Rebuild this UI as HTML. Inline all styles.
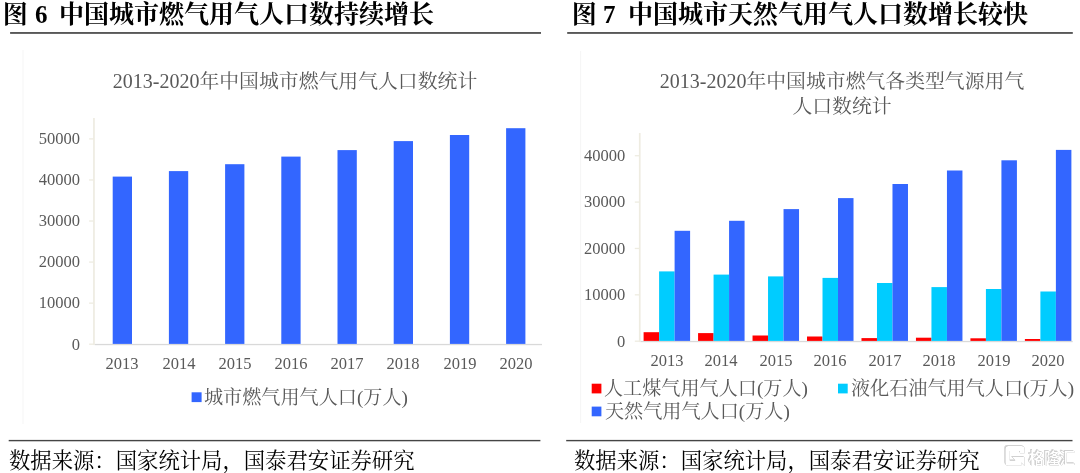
<!DOCTYPE html>
<html lang="zh-CN">
<head>
<meta charset="utf-8">
<title>图6 图7 中国城市燃气用气人口</title>
<style>
html,body{margin:0;padding:0;background:#fff;}
body{width:1080px;height:473px;position:relative;overflow:hidden;font-family:"Liberation Serif","Noto Serif CJK SC",serif;}
.t{position:absolute;white-space:nowrap;margin:0;padding:0;will-change:transform;}
svg.chart{position:absolute;left:0;top:0;}
.ft{font-weight:bold;font-size:25px;line-height:30px;color:#000;}
.ft .fa{position:absolute;top:0;line-height:30px;}
.ct{font-size:20px;color:#595959;text-align:center;line-height:25.2px;}
.ct .cjk{font-size:19.85px;}
.ax{font-size:16.5px;color:#595959;line-height:20px;}
.yl{text-align:right;}
.xl{text-align:center;}
.lg{font-size:19.14px;color:#595959;line-height:24px;}
.src{font-size:21px;color:#000;line-height:26px;}
.src .cjk{font-size:21.35px;}
.wm{position:absolute;overflow:visible;filter:drop-shadow(0.6px 0.6px 0.5px rgba(0,0,0,0.42)) drop-shadow(-0.3px -0.3px 0.4px rgba(0,0,0,0.18));}
</style>
</head>
<body>
<svg class="chart" width="1080" height="473" viewBox="0 0 1080 473" role="img" aria-label="柱状图">
<rect x="22.5" y="50" width="1" height="374" fill="#f6f6f6"/>
<rect x="580.1" y="51" width="1" height="372" fill="#f6f6f6"/>
<rect x="93.1" y="118" width="1.7" height="227.10" fill="#EEECE1"/>
<rect x="89.1" y="343.55" width="4.5" height="1.3" fill="#EEECE1"/>
<rect x="89.1" y="302.49" width="4.5" height="1.3" fill="#EEECE1"/>
<rect x="89.1" y="261.43" width="4.5" height="1.3" fill="#EEECE1"/>
<rect x="89.1" y="220.37" width="4.5" height="1.3" fill="#EEECE1"/>
<rect x="89.1" y="179.31" width="4.5" height="1.3" fill="#EEECE1"/>
<rect x="89.1" y="138.25" width="4.5" height="1.3" fill="#EEECE1"/>
<rect x="94.8" y="343.90" width="447.2" height="1.3" fill="#D9D9D9"/>
<rect x="112.70" y="176.60" width="19.3" height="167.30" fill="#3366FF"/>
<rect x="168.90" y="171.10" width="19.3" height="172.80" fill="#3366FF"/>
<rect x="225.10" y="164.20" width="19.3" height="179.70" fill="#3366FF"/>
<rect x="281.30" y="156.60" width="19.3" height="187.30" fill="#3366FF"/>
<rect x="337.50" y="150.10" width="19.3" height="193.80" fill="#3366FF"/>
<rect x="393.70" y="141.10" width="19.3" height="202.80" fill="#3366FF"/>
<rect x="449.90" y="135.00" width="19.3" height="208.90" fill="#3366FF"/>
<rect x="506.10" y="128.20" width="19.3" height="215.70" fill="#3366FF"/>
<rect x="638.9" y="133" width="1.7" height="209.10" fill="#EEECE1"/>
<rect x="634.8" y="340.55" width="4.5" height="1.3" fill="#EEECE1"/>
<rect x="634.8" y="294.18" width="4.5" height="1.3" fill="#EEECE1"/>
<rect x="634.8" y="247.81" width="4.5" height="1.3" fill="#EEECE1"/>
<rect x="634.8" y="201.44" width="4.5" height="1.3" fill="#EEECE1"/>
<rect x="634.8" y="155.07" width="4.5" height="1.3" fill="#EEECE1"/>
<rect x="640.6" y="340.90" width="432.1" height="1.3" fill="#D9D9D9"/>
<rect x="643.60" y="332.20" width="15.5" height="8.70" fill="#FF0000"/>
<rect x="659.10" y="271.40" width="15.5" height="69.50" fill="#00CCFF"/>
<rect x="674.60" y="230.80" width="15.5" height="110.10" fill="#3366FF"/>
<rect x="698.07" y="333.10" width="15.5" height="7.80" fill="#FF0000"/>
<rect x="713.57" y="274.60" width="15.5" height="66.30" fill="#00CCFF"/>
<rect x="729.07" y="220.80" width="15.5" height="120.10" fill="#3366FF"/>
<rect x="752.54" y="335.50" width="15.5" height="5.40" fill="#FF0000"/>
<rect x="768.04" y="276.40" width="15.5" height="64.50" fill="#00CCFF"/>
<rect x="783.54" y="209.10" width="15.5" height="131.80" fill="#3366FF"/>
<rect x="807.01" y="336.50" width="15.5" height="4.40" fill="#FF0000"/>
<rect x="822.51" y="277.90" width="15.5" height="63.00" fill="#00CCFF"/>
<rect x="838.01" y="198.10" width="15.5" height="142.80" fill="#3366FF"/>
<rect x="861.48" y="338.10" width="15.5" height="2.80" fill="#FF0000"/>
<rect x="876.98" y="283.00" width="15.5" height="57.90" fill="#00CCFF"/>
<rect x="892.48" y="184.00" width="15.5" height="156.90" fill="#3366FF"/>
<rect x="915.95" y="337.70" width="15.5" height="3.20" fill="#FF0000"/>
<rect x="931.45" y="287.10" width="15.5" height="53.80" fill="#00CCFF"/>
<rect x="946.95" y="170.50" width="15.5" height="170.40" fill="#3366FF"/>
<rect x="970.42" y="338.30" width="15.5" height="2.60" fill="#FF0000"/>
<rect x="985.92" y="289.00" width="15.5" height="51.90" fill="#00CCFF"/>
<rect x="1001.42" y="160.30" width="15.5" height="180.60" fill="#3366FF"/>
<rect x="1024.89" y="339.00" width="15.5" height="1.90" fill="#FF0000"/>
<rect x="1040.39" y="291.50" width="15.5" height="49.40" fill="#00CCFF"/>
<rect x="1055.89" y="149.90" width="15.5" height="191.00" fill="#3366FF"/>
<rect x="191.6" y="392.3" width="10" height="9.8" fill="#3366FF"/>
<rect x="591.7" y="383.7" width="9.7" height="9.7" fill="#FF0000"/>
<rect x="838" y="383.7" width="9.7" height="9.7" fill="#00CCFF"/>
<rect x="591.7" y="406.6" width="9.7" height="9.7" fill="#3366FF"/>
<rect x="10.1" y="32" width="530.9" height="1.9" fill="#585858"/>
<rect x="567.2" y="32" width="505.6" height="1.9" fill="#585858"/>
<rect x="8.7" y="439.9" width="531.7" height="1.4" fill="#454545"/>
<rect x="566.2" y="439.9" width="506.3" height="1.4" fill="#454545"/>
</svg>
<div class="t ft" id="ft1" style="left:2.4px;top:-0.04px;width:520px;height:30px"><span class="fa" style="left:0.7px">图</span><span class="fa fn" style="left:33.0px">6</span><span class="fa" style="left:57.1px">中国城市燃气用气人口数持续增长</span></div>
<div class="t ft" id="ft2" style="left:570.6px;top:-0.04px;width:500px;height:30px"><span class="fa" style="left:0.7px">图</span><span class="fa fn" style="left:32.0px">7</span><span class="fa" style="left:57.1px">中国城市天然气用气人口数增长较快</span></div>
<div class="t ct" id="ct1" style="left:95.39999999999998px;width:400px;top:68.95px">2013-2020<span class="cjk">年中国城市燃气用气人口数统计</span></div>
<div class="t ct" id="ct2" style="left:641.8px;width:400px;top:68.95px">2013-2020<span class="cjk">年中国城市燃气各类型气源用气</span><br><span class="cjk">人口数统计</span></div>
<div class="t ax yl" id="yl0" style="left:20px;width:59.900000000000006px;top:334.50px">0</div>
<div class="t ax yl" id="yl1" style="left:20px;width:59.900000000000006px;top:293.44px">10000</div>
<div class="t ax yl" id="yl2" style="left:20px;width:59.900000000000006px;top:252.38px">20000</div>
<div class="t ax yl" id="yl3" style="left:20px;width:59.900000000000006px;top:211.32px">30000</div>
<div class="t ax yl" id="yl4" style="left:20px;width:59.900000000000006px;top:170.26px">40000</div>
<div class="t ax yl" id="yl5" style="left:20px;width:59.900000000000006px;top:129.20px">50000</div>
<div class="t ax yl" id="yr0" style="left:565px;width:60.200000000000045px;top:331.50px">0</div>
<div class="t ax yl" id="yr1" style="left:565px;width:60.200000000000045px;top:285.13px">10000</div>
<div class="t ax yl" id="yr2" style="left:565px;width:60.200000000000045px;top:238.76px">20000</div>
<div class="t ax yl" id="yr3" style="left:565px;width:60.200000000000045px;top:192.39px">30000</div>
<div class="t ax yl" id="yr4" style="left:565px;width:60.200000000000045px;top:146.02px">40000</div>
<div class="t ax xl" id="xl0" style="left:92.35px;width:60px;top:354.43px">2013</div>
<div class="t ax xl" id="xr0" style="left:636.85px;width:60px;top:351.03px">2013</div>
<div class="t ax xl" id="xl1" style="left:148.55px;width:60px;top:354.43px">2014</div>
<div class="t ax xl" id="xr1" style="left:691.32px;width:60px;top:351.03px">2014</div>
<div class="t ax xl" id="xl2" style="left:204.75px;width:60px;top:354.43px">2015</div>
<div class="t ax xl" id="xr2" style="left:745.79px;width:60px;top:351.03px">2015</div>
<div class="t ax xl" id="xl3" style="left:260.95px;width:60px;top:354.43px">2016</div>
<div class="t ax xl" id="xr3" style="left:800.26px;width:60px;top:351.03px">2016</div>
<div class="t ax xl" id="xl4" style="left:317.15px;width:60px;top:354.43px">2017</div>
<div class="t ax xl" id="xr4" style="left:854.73px;width:60px;top:351.03px">2017</div>
<div class="t ax xl" id="xl5" style="left:373.35px;width:60px;top:354.43px">2018</div>
<div class="t ax xl" id="xr5" style="left:909.20px;width:60px;top:351.03px">2018</div>
<div class="t ax xl" id="xl6" style="left:429.55px;width:60px;top:354.43px">2019</div>
<div class="t ax xl" id="xr6" style="left:963.67px;width:60px;top:351.03px">2019</div>
<div class="t ax xl" id="xl7" style="left:485.75px;width:60px;top:354.43px">2020</div>
<div class="t ax xl" id="xr7" style="left:1018.14px;width:60px;top:351.03px">2020</div>
<div class="t lg" id="lg1" style="left:204.3px;top:385.94px">城市燃气用气人口(万人)</div>
<div class="t lg" id="lg2" style="left:604.3px;top:376.94px">人工煤气用气人口(万人)</div>
<div class="t lg" id="lg3" style="left:851.3px;top:376.94px">液化石油气用气人口(万人)</div>
<div class="t lg" id="lg4" style="left:604.9px;top:400.34px">天然气用气人口(万人)</div>
<div class="t src" id="s1" style="left:8.9px;top:447.71px"><span class="cjk">数据来源：国家统计局，国泰君安证券研究</span></div>
<div class="t src" id="s2" style="left:574.1999999999999px;top:447.71px"><span class="cjk">数据来源：国家统计局，国泰君安证券研究</span></div>
<svg class="wm" style="left:1002px;top:443px" width="76" height="28" viewBox="0 0 76 28" role="img" aria-label="格隆汇" fill="#fff"><title>格隆汇</title><path d="M6.3 3.1H19.6a3 3 0 0 1 3 3V10.2H18V7.9H7.8V17.5H13.4L10 14H22.6V22.9L19.2 19.4V22.7H6.3a3 3 0 0 1-3-3V6.1a3 3 0 0 1 3-3z"/><text x="26.4" y="20.7" font-size="15.55" font-weight="bold" fill="#fff" font-family="'Liberation Sans','Noto Sans CJK SC',sans-serif">格隆汇</text></svg>
</body>
</html>
